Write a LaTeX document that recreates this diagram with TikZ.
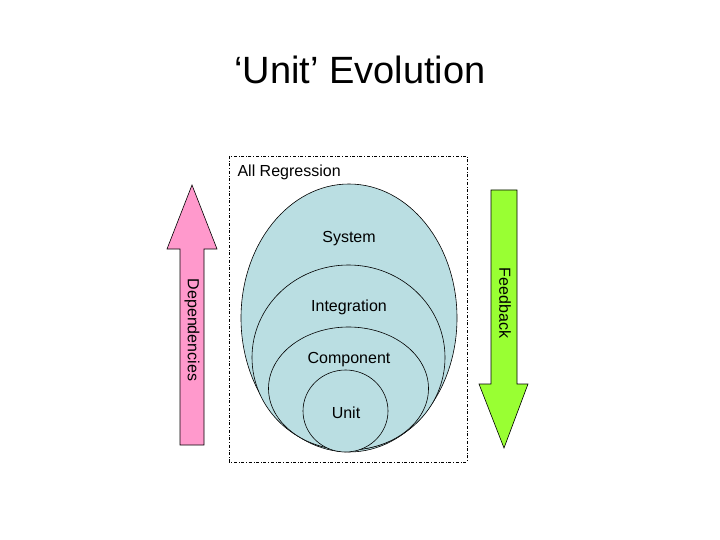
\documentclass[tikz,border=0pt]{standalone}
\usepackage{fontspec}
\setmainfont{Liberation Sans}
\begin{document}
\begin{tikzpicture}[x=1pt,y=-1pt,
  ell/.style={draw=black,fill=cyan!12!gray!25!white,fill=ellfill,line width=0.6pt},
  lbl/.style={font=\fontsize{16}{18}\selectfont},
  arr/.style={draw=black,line width=0.6pt}]
\definecolor{ellfill}{RGB}{186,222,226}
\definecolor{pinkarr}{RGB}{255,153,204}
\definecolor{greenarr}{RGB}{153,255,51}
\useasboundingbox (0,0) rectangle (720,540);
\node[font=\fontsize{38}{44}\selectfont] (title) at (360,70) {‘Unit’ Evolution};
\draw[dash dot,line width=0.6pt] (229,156) rectangle (467,462);
\node[lbl,anchor=west] (all) at (234,172) {All Regression};
\draw[ell] (349,318) ellipse (108 and 134);
\draw[ell] (348.5,357.5) ellipse (96.5 and 92.5);
\draw[ell] (348.5,388.5) ellipse (80 and 61.5);
\draw[ell] (345.5,411) ellipse (42.5 and 41);
\node[lbl] (sys) at (349,239) {System};
\node[lbl] (int) at (349,307) {Integration};
\node[lbl] (comp) at (349,360) {Component};
\node[lbl] (unit) at (346,413) {Unit};
\draw[arr,fill=pinkarr] (180,445) -- (180,249) -- (167,249) -- (192,185) -- (217,249) -- (204,249) -- (204,445) -- cycle;
\draw[arr,fill=greenarr] (491,190) -- (517,190) -- (517,384) -- (528,384) -- (504,448) -- (479,384) -- (491,384) -- cycle;
\node[lbl,rotate=-90] (dep) at (192,330) {Dependencies};
\node[lbl,rotate=-90] (fb) at (505,303) {Feedback};
\end{tikzpicture}
\end{document}
